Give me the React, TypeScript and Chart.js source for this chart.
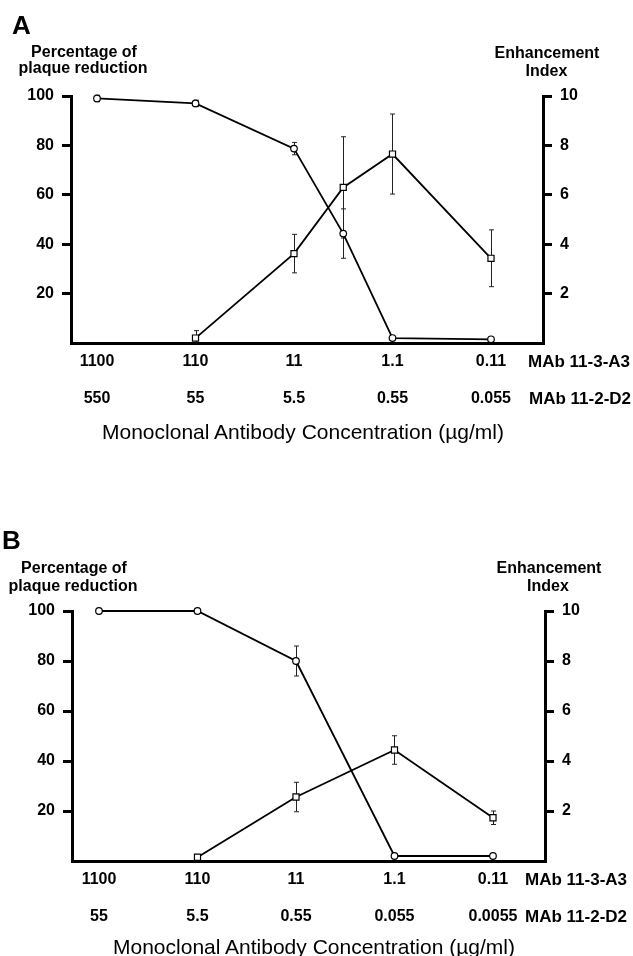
import React, { useEffect, useRef } from "react";
import { Chart, registerables } from "chart.js";

Chart.register(...registerables);

// ---------- Panel A data ----------
const tickRow1A = ["1100", "110", "11", "1.1", "0.11"];
const tickRow2A = ["550", "55", "5.5", "0.55", "0.055"];
const circleXA = [0, 1, 2, 2.5, 3, 4];
const circleYA = [99, 97, 78.7, 44.3, 2, 1.5];
const circleErrA = [1.3, 1.3, 2.5, 10, 0, 0];
const squareXA = [1, 2, 2.5, 3, 4];
const squareYA = [0.2, 3.62, 6.3, 7.65, 3.43];
const squareErrA = [0.3, 0.78, 2.05, 1.62, 1.15];

// ---------- Panel B data ----------
const tickRow1B = ["1100", "110", "11", "1.1", "0.11"];
const tickRow2B = ["55", "5.5", "0.55", "0.055", "0.0055"];
const circleXB = [0, 1, 2, 3, 4];
const circleYB = [100, 100, 80, 2, 2];
const circleErrB = [0, 0, 6, 0, 0];
const squareXB = [1, 2, 3, 4];
const squareYB = [0.15, 2.56, 4.44, 1.73];
const squareErrB = [0, 0.59, 0.57, 0.27];

// ---------- axis ticks / labels ----------
const xTickPositions = [0, 1, 2, 3, 4];
const leftTicks = [20, 40, 60, 80, 100];
const rightTicks = [2, 4, 6, 8, 10];
const leftTitle = ["Percentage of", "plaque reduction"];
const rightTitle = ["Enhancement", "Index"];
const rowNames = ["MAb 11-3-A3", "MAb 11-2-D2"];
const xTitle = "Monoclonal Antibody Concentration (\u00b5g/ml)";

const FONT = "'Liberation Sans', Arial, Helvetica, sans-serif";

const errorBarPlugin = {
  id: "errbars",
  beforeDatasetsDraw(chart: any) {
    const ctx = chart.ctx;
    const area = chart.chartArea;
    ctx.save();
    ctx.beginPath();
    ctx.rect(0, area.top - 30, chart.width, area.bottom - area.top + 30);
    ctx.clip();
    ctx.strokeStyle = "#222";
    ctx.lineWidth = 1;
    chart.data.datasets.forEach((ds: any, i: number) => {
      const meta = chart.getDatasetMeta(i);
      const ys = chart.scales[ds.yAxisID];
      meta.data.forEach((el: any, j: number) => {
        const e = ds.errors ? ds.errors[j] : 0;
        if (!e) return;
        const v = ds.data[j].y;
        const t = ys.getPixelForValue(v + e);
        const b = ys.getPixelForValue(v - e);
        const x = Math.round(el.x) + 0.5;
        ctx.beginPath();
        ctx.moveTo(x, t);
        ctx.lineTo(x, b);
        ctx.moveTo(x - 2.5, t);
        ctx.lineTo(x + 2.5, t);
        ctx.moveTo(x - 2.5, b);
        ctx.lineTo(x + 2.5, b);
        ctx.stroke();
      });
    });
    ctx.restore();
  },
};

type PanelProps = {
  top: number;
  height: number;
  padTop: number;
  axisBottom: number;
  leftW: number;
  rightW: number;
  xMin: number;
  xMax: number;
  row1: string[];
  row2: string[];
  cX: number[];
  cY: number[];
  cE: number[];
  sX: number[];
  sY: number[];
  sE: number[];
};

function Panel(p: PanelProps) {
  const ref = useRef<HTMLCanvasElement | null>(null);
  useEffect(() => {
    if (!ref.current) return;
    const tickFont = { family: FONT, size: 16, weight: "bold" as const };
    const chart = new Chart(ref.current, {
      type: "line",
      data: {
        datasets: [
          {
            label: "Percentage of plaque reduction",
            data: p.cX.map((x, i) => ({ x, y: p.cY[i] })),
            yAxisID: "yL",
            borderColor: "#000",
            borderWidth: 1.8,
            pointStyle: "circle",
            pointRadius: 3.3,
            pointBorderWidth: 1.2,
            pointBackgroundColor: "#fff",
            pointBorderColor: "#000",
            tension: 0,
            clip: false,
            errors: p.cE,
          } as any,
          {
            label: "Enhancement Index",
            data: p.sX.map((x, i) => ({ x, y: p.sY[i] })),
            yAxisID: "yR",
            borderColor: "#000",
            borderWidth: 1.8,
            pointStyle: "rect",
            pointRadius: 4.3,
            pointBorderWidth: 1.2,
            pointBackgroundColor: "#fff",
            pointBorderColor: "#000",
            tension: 0,
            clip: false,
            errors: p.sE,
          } as any,
        ],
      },
      options: {
        animation: false,
        responsive: false,
        maintainAspectRatio: false,
        layout: { padding: { top: p.padTop, left: 0, right: 0, bottom: 0 } },
        plugins: { legend: { display: false }, tooltip: { enabled: false } },
        scales: {
          x: {
            type: "linear",
            position: "bottom",
            min: p.xMin,
            max: p.xMax,
            grid: { display: false, drawTicks: false, tickLength: 0 },
            border: { display: true, color: "#000", width: 3 },
            afterBuildTicks: (s: any) => {
              s.ticks = xTickPositions.map((v) => ({ value: v }));
            },
            afterFit: (s: any) => {
              s.height = p.height - p.axisBottom;
            },
            ticks: {
              autoSkip: false,
              maxRotation: 0,
              minRotation: 0,
              padding: 0,
              color: "#000",
              font: { ...tickFont, lineHeight: "37px" } as any,
              callback: (_v: any, i: number) => [p.row1[i], p.row2[i]],
            },
          },
          yL: {
            type: "linear",
            position: "left",
            min: 0,
            max: 100,
            afterBuildTicks: (s: any) => {
              s.ticks = leftTicks.map((v) => ({ value: v }));
            },
            afterFit: (s: any) => {
              s.width = p.leftW;
            },
            grid: {
              display: true,
              drawOnChartArea: false,
              drawTicks: true,
              tickLength: 9,
              lineWidth: 3,
              color: "#000",
            },
            border: { display: true, color: "#000", width: 3 },
            ticks: { color: "#000", padding: 8, font: tickFont, callback: (v: any) => String(v) },
          },
          yR: {
            type: "linear",
            position: "right",
            min: 0,
            max: 10,
            afterBuildTicks: (s: any) => {
              s.ticks = rightTicks.map((v) => ({ value: v }));
            },
            afterFit: (s: any) => {
              s.width = p.rightW;
            },
            grid: {
              display: true,
              drawOnChartArea: false,
              drawTicks: true,
              tickLength: 9,
              lineWidth: 3,
              color: "#000",
            },
            border: { display: true, color: "#000", width: 3 },
            ticks: { color: "#000", padding: 8, font: tickFont, callback: (v: any) => String(v) },
          },
        },
      } as any,
      plugins: [errorBarPlugin],
    });
    return () => chart.destroy();
  }, []);
  return (
    <div style={{ position: "absolute", left: 0, top: p.top, width: 633, height: p.height }}>
      <canvas ref={ref} width={633} height={p.height} style={{ display: "block" }} />
    </div>
  );
}

function T(props: { x: number; y: number; size: number; bold?: boolean; align?: "left" | "center"; text: string }) {
  const { x, y, size, bold, align, text } = props;
  const top = y - 0.4885 * size;
  const style: React.CSSProperties = {
    position: "absolute",
    top,
    fontFamily: FONT,
    fontSize: size,
    lineHeight: `${size}px`,
    fontWeight: bold ? "bold" : "normal",
    whiteSpace: "nowrap",
    color: "#000",
  };
  if (align === "center") {
    style.left = x - 300;
    style.width = 600;
    style.textAlign = "center";
  } else {
    style.left = x;
  }
  return <div style={style}>{text}</div>;
}

export default function App() {
  return (
    <div style={{ position: "absolute", left: 0, top: 0, width: 633, height: 956, background: "#fff", overflow: "hidden" }}>
      <Panel
        top={0}
        height={516}
        padTop={96}
        axisBottom={343}
        leftW={71}
        rightW={90}
        xMin={-0.264}
        xMax={4.528}
        row1={tickRow1A}
        row2={tickRow2A}
        cX={circleXA}
        cY={circleYA}
        cE={circleErrA}
        sX={squareXA}
        sY={squareYA}
        sE={squareErrA}
      />
      <Panel
        top={516}
        height={440}
        padTop={95}
        axisBottom={345}
        leftW={72}
        rightW={88}
        xMin={-0.274}
        xMax={4.528}
        row1={tickRow1B}
        row2={tickRow2B}
        cX={circleXB}
        cY={circleYB}
        cE={circleErrB}
        sX={squareXB}
        sY={squareYB}
        sE={squareErrB}
      />
      {/* Panel A texts */}
      <T x={12} y={25} size={26} bold text="A" />
      <T x={84} y={52} size={16} bold align="center" text={leftTitle[0]} />
      <T x={83} y={67.5} size={16} bold align="center" text={leftTitle[1]} />
      <T x={547} y={52.5} size={16} bold align="center" text={rightTitle[0]} />
      <T x={546.5} y={70.5} size={16} bold align="center" text={rightTitle[1]} />
      <T x={528} y={361.5} size={17} bold text={rowNames[0]} />
      <T x={529} y={398.5} size={17} bold text={rowNames[1]} />
      <T x={303} y={431} size={21} align="center" text={xTitle} />
      {/* Panel B texts */}
      <T x={2} y={540} size={26} bold text="B" />
      <T x={74} y={567.5} size={16} bold align="center" text={leftTitle[0]} />
      <T x={73} y={585.5} size={16} bold align="center" text={leftTitle[1]} />
      <T x={549} y={567.5} size={16} bold align="center" text={rightTitle[0]} />
      <T x={548} y={585.7} size={16} bold align="center" text={rightTitle[1]} />
      <T x={525} y={879.5} size={17} bold text={rowNames[0]} />
      <T x={525} y={916.5} size={17} bold text={rowNames[1]} />
      <T x={314} y={946} size={21} align="center" text={xTitle} />
    </div>
  );
}
